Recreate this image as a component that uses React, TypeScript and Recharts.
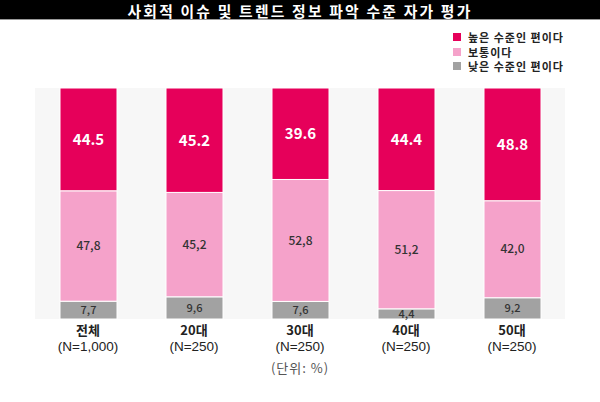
import React from "react";
import { BarChart, Bar, XAxis, YAxis, CartesianGrid, LabelList } from "recharts";

const categories = ["전체", "20대", "30대", "40대", "50대"];
const sampleSizes = ["(N=1,000)", "(N=250)", "(N=250)", "(N=250)", "(N=250)"];
const highValues = [44.5, 45.2, 39.6, 44.4, 48.8];
const midValues = [47.8, 45.2, 52.8, 51.2, 42.0];
const lowValues = [7.7, 9.6, 7.6, 4.4, 9.2];
const seriesNames = ["높은 수준인 편이다", "보통이다", "낮은 수준인 편이다"];
const seriesColors = ["#E6005A", "#F5A2CA", "#A2A2A2"];
const title = "사회적 이슈 및 트렌드 정보 파악 수준 자가 평가";
const unitNote = "(단위: %)";

const data = categories.map((c, i) => ({
  name: c,
  sample: sampleSizes[i],
  high: highValues[i],
  mid: midValues[i],
  low: lowValues[i],
}));

const FONT = "'Noto Sans CJK KR', 'Noto Sans', sans-serif";
const LATIN = "'Liberation Sans', Arial, sans-serif";

const commaFmt = (v: any) => Number(v).toFixed(1).replace(".", ",");
const dotFmt = (v: any) => Number(v).toFixed(1);

const Tick = (props: any) => {
  const { x, y, payload, index } = props;
  return (
    <g>
      <text x={x} y={y} dy={7.5} textAnchor="middle" fontFamily={FONT} fontSize={13} fontWeight={700} fill="#222">
        {payload.value}
      </text>
      <text x={x} y={y} dy={23.5} textAnchor="middle" fontFamily={LATIN} fontSize={13.5} fill="#222">
        {sampleSizes[index]}
      </text>
    </g>
  );
};

export default function App() {
  return (
    <div style={{ position: "absolute", left: 0, top: 0, width: 600, height: 402, background: "#fff", overflow: "hidden" }}>
      <div
        style={{
          position: "absolute",
          left: 0,
          top: 0,
          width: 600,
          height: 19,
          background: "#000",
          borderBottom: "1px solid #999",
        }}
      />
      <div
        style={{
          position: "absolute",
          left: 0,
          top: 0,
          width: 600,
          color: "#fff",
          fontFamily: FONT,
          fontWeight: 700,
          fontSize: 14.8,
          letterSpacing: 2.2,
          lineHeight: "22px",
          textAlign: "center",
          whiteSpace: "nowrap",
        }}
      >
        {title}
      </div>
      <div style={{ position: "absolute", left: 0, top: 0 }}>
        <BarChart
          width={600}
          height={402}
          data={data}
          margin={{ top: 88, right: 35, bottom: 43, left: 35 }}
          barSize={57}
        >
          <CartesianGrid horizontal={false} vertical={false} fill="#F7F7F7" />
          <YAxis hide domain={[0, 100]} />
          <XAxis dataKey="name" axisLine={false} tickLine={false} height={40} tick={<Tick />} interval={0} />
          <Bar dataKey="low" name={seriesNames[2]} stackId="a" fill={seriesColors[2]} stroke="#fff" strokeWidth={1} isAnimationActive={false}>
            <LabelList dataKey="low" position="center" formatter={commaFmt} fill="#333" fontSize={11} fontFamily={FONT} fontWeight={500} />
          </Bar>
          <Bar dataKey="mid" name={seriesNames[1]} stackId="a" fill={seriesColors[1]} stroke="#fff" strokeWidth={1} isAnimationActive={false}>
            <LabelList dataKey="mid" position="center" formatter={commaFmt} fill="#333" fontSize={12} fontFamily={FONT} fontWeight={500} />
          </Bar>
          <Bar dataKey="high" name={seriesNames[0]} stackId="a" fill={seriesColors[0]} stroke="#fff" strokeWidth={1} isAnimationActive={false}>
            <LabelList dataKey="high" position="center" formatter={dotFmt} fill="#fff" fontSize={15} fontFamily={FONT} fontWeight={700} />
          </Bar>
        </BarChart>
      </div>
      <div
        style={{
          position: "absolute",
          left: 453,
          top: 30,
          fontFamily: FONT,
          fontSize: 11,
          fontWeight: 700,
          letterSpacing: 1,
          color: "#222",
        }}
      >
        {seriesNames.map((n, i) => (
          <div key={n} style={{ display: "flex", alignItems: "center", height: 14.5, whiteSpace: "nowrap" }}>
            <span style={{ display: "inline-block", width: 8, height: 8, background: seriesColors[i], marginRight: 7 }} />
            <span>{n}</span>
          </div>
        ))}
      </div>
      <div
        style={{
          position: "absolute",
          left: 0,
          width: 600,
          top: 358,
          textAlign: "center",
          fontFamily: FONT,
          fontSize: 13,
          letterSpacing: 1,
          color: "#555",
        }}
      >
        {unitNote}
      </div>
    </div>
  );
}
